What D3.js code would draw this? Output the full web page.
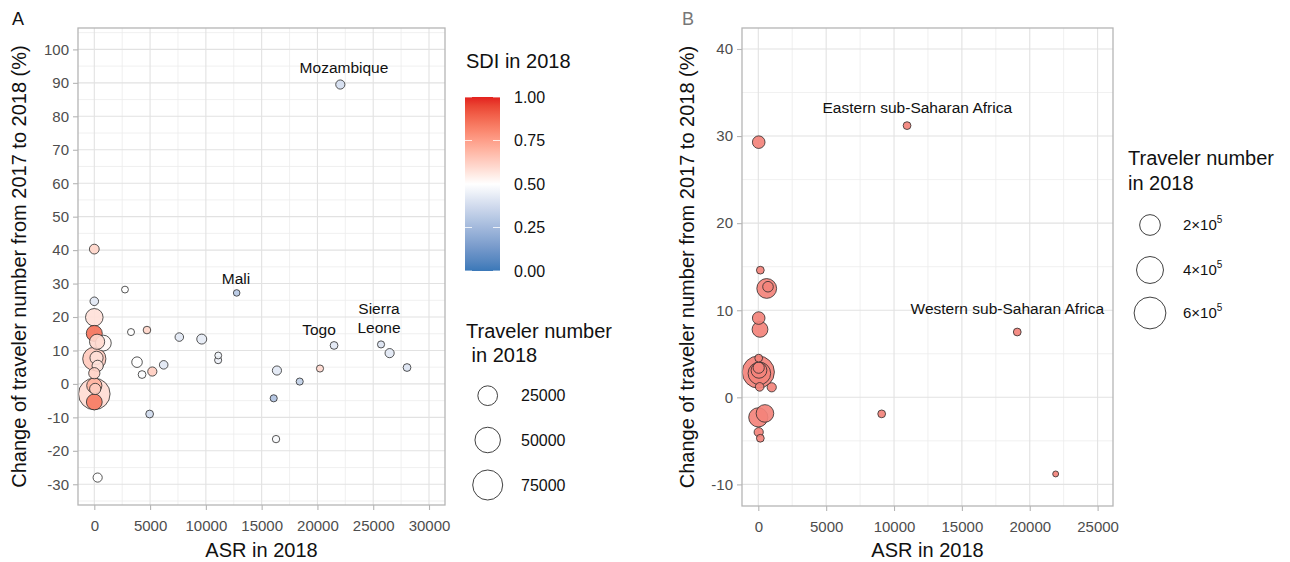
<!DOCTYPE html>
<html>
<head>
<meta charset="utf-8">
<script src="https://cdn.jsdelivr.net/npm/d3@7"></script>
<style>
  body { margin: 0; background: #fff; }
  svg { display: block; font-family: "Liberation Sans", Arial, Helvetica, sans-serif; }
</style>
</head>
<body>
<svg id="chart" width="1290" height="562"></svg>
<script>
// ---------- Panel A: countries ----------
const asrA = [0, 0, 0, 0, 250, 810, 0, 200, 300, 0, 0, 0, 80, 0, 300,
  2750, 3290, 4720, 7620, 9630, 11110, 11100, 12760, 3830, 4280, 5200, 6220, 4960,
  16370, 16080, 16290, 18410, 20230, 21490, 25700, 26470, 28030, 22050];
const changeA = [40.3, 24.7, 19.9, 15.1, 12.6, 12.2, 7.5, 7.8, 5.4, 3.2, -3.0, -0.5, -1.5, -5.4, -28.0,
  28.2, 15.5, 16.1, 14.0, 13.4, 8.5, 7.1, 27.2, 6.5, 2.8, 3.7, 5.7, -9.0,
  4.0, -4.3, -16.5, 0.7, 4.6, 11.5, 11.8, 9.2, 4.9, 89.5];
const sdiA = [0.61, 0.42, 0.58, 0.86, 0.60, 0.52, 0.64, 0.58, 0.57, 0.62, 0.59, 0.70, 0.63, 0.84, 0.50,
  0.50, 0.50, 0.61, 0.42, 0.43, 0.46, 0.45, 0.30, 0.50, 0.49, 0.63, 0.42, 0.37,
  0.42, 0.28, 0.48, 0.33, 0.60, 0.42, 0.40, 0.42, 0.40, 0.38];
const travelersA = [2200, 1100, 18100, 13600, 11600, 13100, 39000, 7300, 4000, 4000, 85000, 11600, 4000, 13100, 1600,
  200, 250, 500, 1100, 2400, 200, 300, 120, 3100, 600, 1600, 1100, 600,
  1600, 300, 400, 300, 300, 600, 300, 1600, 600, 1600];

// text annotations (placed in data units)
const noteTextA = [["Mozambique"], ["Mali"], ["Togo"], ["Sierra", "Leone"]];
const noteAsrA = [22380, 12700, 20140, 25520];
const noteChangeA = [94.7, 31.4, 16.1, 19.6];

const xTicksA = [0, 5000, 10000, 15000, 20000, 25000, 30000];
const yTicksA = [-30, -20, -10, 0, 10, 20, 30, 40, 50, 60, 70, 80, 90, 100];

// ---------- Panel B: regions ----------
const asrB = [30, 10960, 150, 620, 715, 30, 125, 30, 0, 80, 50, 30, 990, 100, 0, 490, 30, 150, 9090, 19080, 21910];
const changeB = [29.3, 31.2, 14.6, 12.5, 12.7, 9.1, 7.8, 4.5, 2.9, 2.75, 3.1, 3.4, 1.15, 1.2, -2.3, -1.85, -4.0, -4.7, -1.9, 7.5, -8.8];
const travelersB = [42800, 4200, 4200, 176000, 21900, 42800, 90900, 4200, 618000, 252600, 90900, 27400, 11300, 7900,
  161700, 125900, 11300, 4200, 4200, 4200, 100];

const noteTextB = [["Eastern sub-Saharan Africa"], ["Western sub-Saharan Africa"]];
const noteAsrB = [11715, 18350];
const noteChangeB = [33.25, 10.14];

const xTicksB = [0, 5000, 10000, 15000, 20000, 25000];
const yTicksB = [-10, 0, 10, 20, 30, 40];

// ---------- legends ----------
const sdiBreaks = [0, 0.25, 0.5, 0.75, 1];
const sizeBreaksA = [25000, 50000, 75000];
const sizeBreaksB = [200000, 400000, 600000];
const sizeMantissaB = ["2", "4", "6"];

// ---------- scales ----------
const xA = d3.scaleLinear().domain([-1461, 31434]).range([78, 445]);
const yA = d3.scaleLinear().domain([-36.2, 106.4]).range([505, 28]);
const xB = d3.scaleLinear().domain([-1201, 26134]).range([742, 1113]);
const yB = d3.scaleLinear().domain([-12.48, 42.41]).range([506, 28]);

const rA = d3.scaleSqrt().domain([0, 75000]).range([2.8, 15.0]);
const rB = d3.scaleSqrt().domain([0, 600000]).range([2.8, 15.9]);

const sdiColor = d3.scaleLinear()
  .domain([0, 0.5, 1])
  .range(["#3A78B8", "#FFFFFF", "#E3211E"])
  .interpolate(d3.interpolateLab);

const svg = d3.select("#chart");

const GRID = "#e2e2e2", BORDER = "#b5b5b5", TICKTXT = "#4d4d4d";

function halfSteps(domain, step) {
  const out = [];
  const h = step / 2;
  for (let v = Math.ceil(domain[0] / h) * h; v <= domain[1]; v += h) {
    if (Math.abs(v / step - Math.round(v / step)) > 1e-6) out.push(v);
  }
  return out;
}

function drawFrame(x, y, xTicks, yTicks) {
  const g = svg.append("g");
  const [x0, x1] = x.range(), [y0, y1] = y.range();
  const xMinor = halfSteps(x.domain(), xTicks[1] - xTicks[0]);
  const yMinor = halfSteps(y.domain(), yTicks[1] - yTicks[0]);

  g.selectAll(".vmin").data(xMinor).join("line")
    .attr("x1", d => x(d)).attr("x2", d => x(d)).attr("y1", y1).attr("y2", y0)
    .attr("stroke", "#ececec").attr("stroke-width", 0.8);
  g.selectAll(".hmin").data(yMinor).join("line")
    .attr("y1", d => y(d)).attr("y2", d => y(d)).attr("x1", x0).attr("x2", x1)
    .attr("stroke", "#ececec").attr("stroke-width", 0.8);
  g.selectAll(".vmaj").data(xTicks).join("line")
    .attr("x1", d => x(d)).attr("x2", d => x(d)).attr("y1", y1).attr("y2", y0)
    .attr("stroke", GRID).attr("stroke-width", 1.1);
  g.selectAll(".hmaj").data(yTicks).join("line")
    .attr("y1", d => y(d)).attr("y2", d => y(d)).attr("x1", x0).attr("x2", x1)
    .attr("stroke", GRID).attr("stroke-width", 1.1);

  const ax = svg.append("g").attr("transform", `translate(0,${y0})`)
    .call(d3.axisBottom(x).tickValues(xTicks).tickFormat(d3.format("d")).tickSize(5).tickPadding(10));
  const ay = svg.append("g").attr("transform", `translate(${x0},0)`)
    .call(d3.axisLeft(y).tickValues(yTicks).tickFormat(d3.format("d")).tickSize(5).tickPadding(4));
  [ax, ay].forEach(a => {
    a.select(".domain").remove();
    a.selectAll(".tick line").attr("stroke", BORDER).attr("stroke-width", 1.1);
    a.selectAll(".tick text").attr("fill", TICKTXT).attr("font-size", 15)
      .attr("font-family", "'Liberation Sans', Arial, sans-serif");
  });
  ay.selectAll(".tick text").text(d => d < 0 ? "-" + Math.abs(d) : d);
  return g;
}

function drawBorder(x, y) {
  const [x0, x1] = x.range(), [y0, y1] = y.range();
  svg.append("rect").attr("x", x0).attr("y", y1).attr("width", x1 - x0).attr("height", y0 - y1)
    .attr("fill", "none").attr("stroke", BORDER).attr("stroke-width", 1.3);
}

function axisTitles(x, y, yTitleX) {
  const [x0, x1] = x.range(), [y0, y1] = y.range();
  svg.append("text").attr("x", (x0 + x1) / 2).attr("y", 557).attr("text-anchor", "middle")
    .attr("font-size", 20).attr("fill", "#111").text("ASR in 2018");
  svg.append("text").attr("transform", `translate(${yTitleX},${(y0 + y1) / 2}) rotate(-90)`)
    .attr("text-anchor", "middle").attr("font-size", 20).attr("fill", "#111")
    .text("Change of traveler number from 2017 to 2018 (%)");
}

// ---------- Panel A ----------
drawFrame(xA, yA, xTicksA, yTicksA);
const idxA = d3.range(asrA.length).sort((a, b) => travelersA[b] - travelersA[a]);
svg.append("g").selectAll("circle").data(idxA).join("circle")
  .attr("cx", i => xA(asrA[i])).attr("cy", i => yA(changeA[i])).attr("r", i => rA(travelersA[i]))
  .attr("fill", i => sdiColor(sdiA[i])).attr("fill-opacity", 0.9)
  .attr("stroke", "#2b2b2b").attr("stroke-width", 0.8);
drawBorder(xA, yA);

const notesA = svg.append("g").attr("font-size", 15.5).attr("fill", "#111").attr("text-anchor", "middle");
noteTextA.forEach((lines, k) => {
  const t = notesA.append("text").attr("x", xA(noteAsrA[k])).attr("y", yA(noteChangeA[k]));
  lines.forEach((ln, j) => {
    t.append("tspan").attr("x", xA(noteAsrA[k]))
      .attr("y", yA(noteChangeA[k]) + (j - (lines.length - 1) / 2) * 19)
      .attr("dy", "0.35em").text(ln);
  });
});
axisTitles(xA, yA, 26);
svg.append("text").attr("x", 12).attr("y", 25).attr("font-size", 18).attr("fill", "#111").text("A");

// ---------- Panel B ----------
drawFrame(xB, yB, xTicksB, yTicksB);
const idxB = d3.range(asrB.length).sort((a, b) => travelersB[b] - travelersB[a]);
svg.append("g").selectAll("circle").data(idxB).join("circle")
  .attr("cx", i => xB(asrB[i])).attr("cy", i => yB(changeB[i])).attr("r", i => rB(travelersB[i]))
  .attr("fill", "#f3837b").attr("fill-opacity", 0.92)
  .attr("stroke", "#2b2b2b").attr("stroke-width", 0.8);
drawBorder(xB, yB);

const notesB = svg.append("g").attr("font-size", 15.5).attr("fill", "#111").attr("text-anchor", "middle");
noteTextB.forEach((lines, k) => {
  notesB.append("text").attr("x", xB(noteAsrB[k])).attr("y", yB(noteChangeB[k]))
    .attr("dy", "0.35em").text(lines[0]);
});
axisTitles(xB, yB, 694);
svg.append("text").attr("x", 682).attr("y", 25).attr("font-size", 18).attr("fill", "#777").text("B");

// ---------- Legend: SDI colour bar ----------
const legA = svg.append("g");
legA.append("text").attr("x", 466).attr("y", 68).attr("font-size", 20).attr("fill", "#111").text("SDI in 2018");
const barY = d3.scaleLinear().domain([0, 1]).range([271, 97]);
const grad = svg.append("defs").append("linearGradient").attr("id", "sdiGrad")
  .attr("x1", 0).attr("y1", 1).attr("x2", 0).attr("y2", 0);
d3.range(0, 1.0001, 0.05).forEach(t => {
  grad.append("stop").attr("offset", t).attr("stop-color", sdiColor(t));
});
legA.append("rect").attr("x", 465).attr("y", barY(1)).attr("width", 35).attr("height", barY(0) - barY(1))
  .attr("fill", "url(#sdiGrad)");
sdiBreaks.forEach(b => {
  legA.append("line").attr("x1", 465).attr("x2", 472).attr("y1", barY(b)).attr("y2", barY(b))
    .attr("stroke", "#fff").attr("stroke-width", 0.8);
  legA.append("line").attr("x1", 493).attr("x2", 500).attr("y1", barY(b)).attr("y2", barY(b))
    .attr("stroke", "#fff").attr("stroke-width", 0.8);
  legA.append("text").attr("x", 514).attr("y", barY(b)).attr("dy", "0.35em")
    .attr("font-size", 16).attr("fill", "#111").text(d3.format(".2f")(b));
});

// ---------- Legend: traveler size (A) ----------
legA.append("text").attr("x", 466).attr("y", 338).attr("font-size", 20).attr("fill", "#111").text("Traveler number");
legA.append("text").attr("x", 466).attr("y", 362).attr("font-size", 20).attr("fill", "#111")
  .attr("xml:space", "preserve").text("\u00a0in 2018");
const keyYA = [395.7, 440, 485];
sizeBreaksA.forEach((b, k) => {
  legA.append("circle").attr("cx", 487.7).attr("cy", keyYA[k]).attr("r", rA(b))
    .attr("fill", "#fff").attr("stroke", "#2b2b2b").attr("stroke-width", 0.9);
  legA.append("text").attr("x", 521).attr("y", keyYA[k]).attr("dy", "0.35em")
    .attr("font-size", 16).attr("fill", "#111").text(b);
});

// ---------- Legend: traveler size (B) ----------
const legB = svg.append("g");
legB.append("text").attr("x", 1128).attr("y", 165).attr("font-size", 20).attr("fill", "#111").text("Traveler number");
legB.append("text").attr("x", 1128).attr("y", 190).attr("font-size", 20).attr("fill", "#111").text("in 2018");
const keyYB = [225, 270, 313];
sizeBreaksB.forEach((b, k) => {
  legB.append("circle").attr("cx", 1150).attr("cy", keyYB[k]).attr("r", rB(b))
    .attr("fill", "#fff").attr("stroke", "#2b2b2b").attr("stroke-width", 0.9);
  const t = legB.append("text").attr("x", 1183).attr("y", keyYB[k]).attr("dy", "0.35em")
    .attr("font-size", 15).attr("fill", "#111");
  t.append("tspan").text(sizeMantissaB[k] + "\u00d710");
  t.append("tspan").attr("font-size", 10).attr("dy", "-0.75em").text("5");
});
</script>
</body>
</html>
